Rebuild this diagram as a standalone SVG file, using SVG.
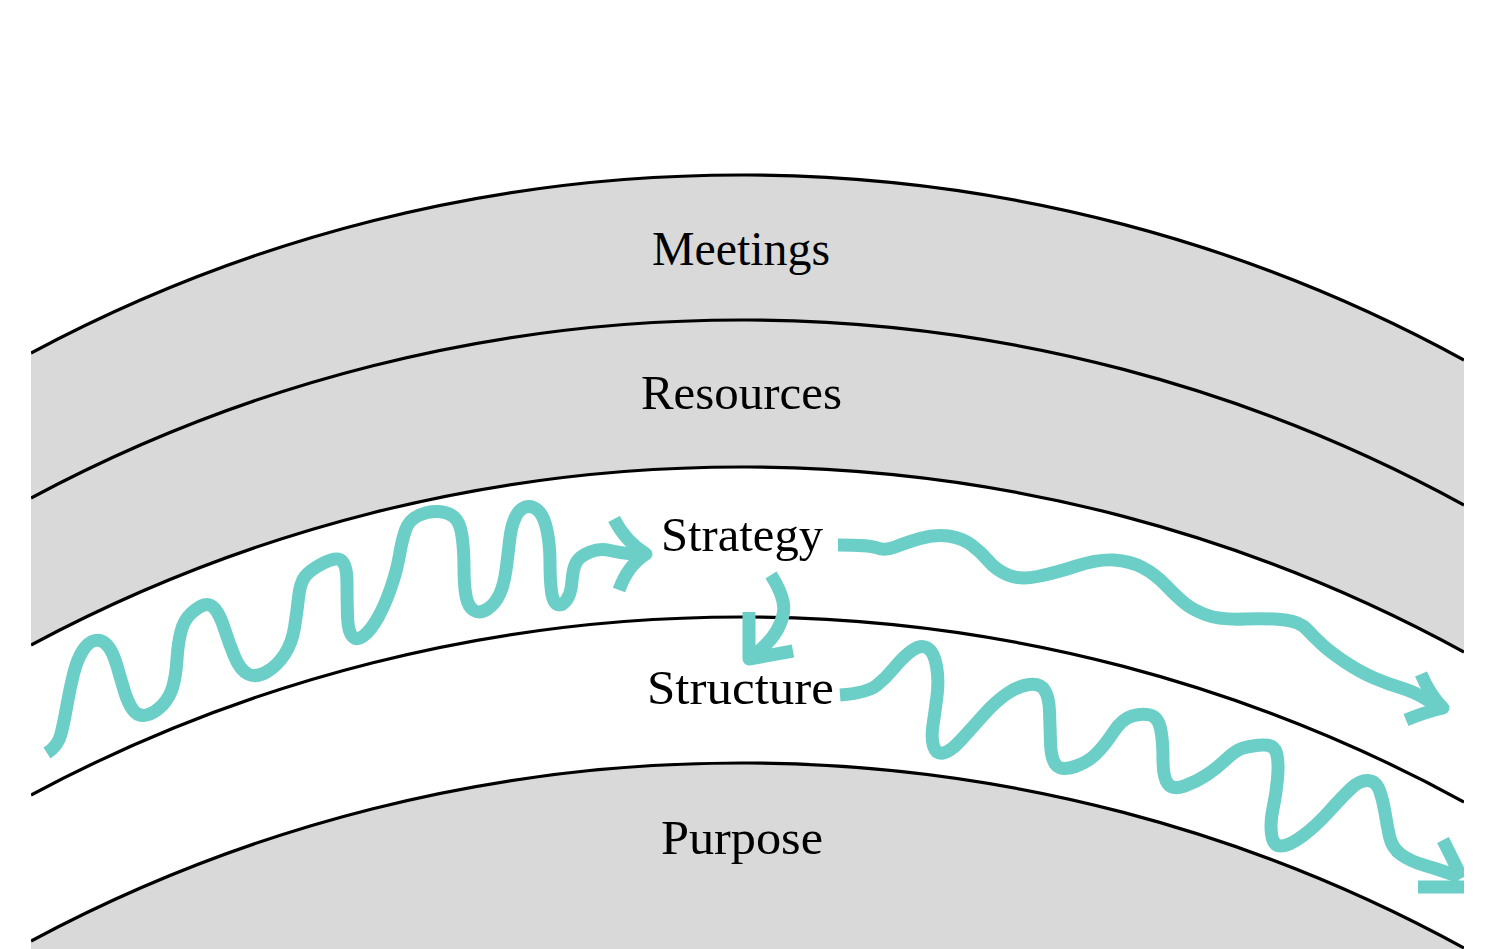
<svg xmlns="http://www.w3.org/2000/svg" width="1502" height="949" viewBox="0 0 1502 949">
<style>
.band{fill:#d9d9d9;stroke:none}
.arc{fill:none;stroke:#000;stroke-width:3.2}
.lbl{font-family:"Liberation Serif","Times New Roman",serif;font-size:48px;fill:#000;text-anchor:middle}
.flow{fill:none;stroke:#6bcec7;stroke-width:13;stroke-linejoin:round;stroke-linecap:butt}
</style>
<defs>
<clipPath id="clip"><rect x="31" y="0" width="1433" height="949"/></clipPath>
</defs>
<rect width="1502" height="949" fill="#fff"/>
<g id="bands" clip-path="url(#clip)">
<path class="band" d="M31,353 A1505,1505 0 0 1 1464,360 L1464,652 A1505,1505 0 0 0 31,645 Z"/>
<path class="band" d="M31,941 A1505,1505 0 0 1 1464,948 L1464,949 L31,949 Z"/>
<path class="arc" d="M31,353 A1505,1505 0 0 1 1464,360"/>
<path class="arc" d="M31,498 A1505,1505 0 0 1 1464,505"/>
<path class="arc" d="M31,645 A1505,1505 0 0 1 1464,652"/>
<path class="arc" d="M31,795 A1505,1505 0 0 1 1464,802"/>
<path class="arc" d="M31,941 A1505,1505 0 0 1 1464,948"/>
</g>
<g id="meetings"><text class="lbl" x="741" y="265" textLength="178" lengthAdjust="spacingAndGlyphs">Meetings</text></g>
<g id="resources"><text class="lbl" x="741.5" y="409" textLength="201" lengthAdjust="spacingAndGlyphs">Resources</text></g>
<g id="strategy"><text class="lbl" x="742" y="551" textLength="162" lengthAdjust="spacingAndGlyphs">Strategy</text></g>
<g id="structure"><text class="lbl" x="740.5" y="704" textLength="187" lengthAdjust="spacingAndGlyphs">Structure</text></g>
<g id="purpose"><text class="lbl" x="742" y="854" textLength="162" lengthAdjust="spacingAndGlyphs">Purpose</text></g>
<g id="connectors" clip-path="url(#clip)">
<path class="flow" d="M47,753 Q58,746 61,734 Q64,722 67,705 Q70,688 73.5,674 Q77,660 82.5,651 Q88,642 95,640.5 Q102,639 107.5,645.5 Q113,652 117,666 Q121,680 124.5,691.5 Q128,703 133,710 Q138,717 146.5,715 Q155,713 162.5,705 Q170,697 173,686 Q176,675 177,659 Q178,643 181,631.5 Q184,620 191,613.5 Q198,607 204,605 Q210,603 215,609 Q220,615 224.5,629 Q229,643 234.5,656.5 Q240,670 248,674 Q256,678 266.5,672 Q277,666 284.5,654.5 Q292,643 294.5,627.5 Q297,612 298.5,597.5 Q300,583 305,576.5 Q310,570 323.5,563 Q337,556 342,561 Q347,566 347,583 Q347,600 347.5,616 Q348,632 352.5,636.5 Q357,641 364,635.5 Q371,630 378,617.5 Q385,605 391,587.5 Q397,570 399.5,555 Q402,540 405.5,530 Q409,520 418.5,515.5 Q428,511 438,511.5 Q448,512 454,517 Q460,522 462,536 Q464,550 464,567.5 Q464,585 466,596 Q468,607 474,610.5 Q480,614 487.5,609 Q495,604 499.5,594.5 Q504,585 506,570 Q508,555 509.5,541 Q511,527 515,518 Q519,509 525.5,507 Q532,505 538,510.5 Q544,516 547,530.5 Q550,545 550,562.5 Q550,580 551.5,591.5 Q553,603 557.5,604.5 Q562,606 566.5,600 Q571,594 572,581 Q573,568 576.5,562 Q580,556 590,552 Q600,548 610,550.5 Q620,553 632.5,554 L645,555"/>
<path class="flow" d="M614,519 Q626,542 646,554 Q628,565 619,590"/>
<path class="flow" d="M838,545 Q870,545 877.5,548 Q885,551 895,547 Q905,543 920,538.5 Q935,534 948.5,536 Q962,538 971.5,545 Q981,552 988.5,561 Q996,570 1008,575 Q1020,580 1037.5,576.5 Q1055,573 1076.5,566 Q1098,559 1114,560 Q1130,561 1142.5,567.5 Q1155,574 1166,585.5 Q1177,597 1185,603.5 Q1193,610 1206.5,615 Q1220,620 1245,619 Q1270,618 1285,620 Q1300,622 1306.5,629 Q1313,636 1321.5,644 Q1330,652 1345,662 Q1360,672 1374,678 Q1388,684 1401.5,688 Q1415,692 1427.5,700 L1440,708"/>
<path class="flow" d="M1421,674 Q1430,695 1443,708 Q1425,712 1406,720"/>
<path class="flow" d="M771,575 Q787,600 783,615 Q778,638 752,656"/>
<path class="flow" d="M749,612 L749,659 L793,651"/>
<path class="flow" d="M840,695 Q867,693 876.5,685.5 Q886,678 894.5,667.5 Q903,657 912,650.5 Q921,644 927.5,648 Q934,652 936.5,666 Q939,680 937,696 Q935,712 933,725 Q931,738 933.5,746 Q936,754 943,753 Q950,752 961,740 Q972,728 983.5,715 Q995,702 1006.5,694 Q1018,686 1029,684.5 Q1040,683 1044.5,690 Q1049,697 1049.5,711 Q1050,725 1050.5,742.5 Q1051,760 1056.5,765.5 Q1062,771 1075,766.5 Q1088,762 1096.5,753.5 Q1105,745 1113.5,732 Q1122,719 1132,716 Q1142,713 1150,715 Q1158,717 1160.5,728.5 Q1163,740 1163,759 Q1163,778 1168,784 Q1173,790 1184.5,786 Q1196,782 1206.5,775 Q1217,768 1226.5,759 Q1236,750 1243,748 Q1250,746 1262,745 Q1274,744 1276.5,753 Q1279,762 1277.5,778.5 Q1276,795 1273,808.5 Q1270,822 1271.5,834 Q1273,846 1281,846 Q1289,846 1302.5,836 Q1316,826 1329,811.5 Q1342,797 1351,788.5 Q1360,780 1368,780.5 Q1376,781 1379.5,790.5 Q1383,800 1385,812.5 Q1387,825 1389.5,836.5 Q1392,848 1401,854.5 Q1410,861 1423.5,865 Q1437,869 1448.5,873 L1460,877"/>
<path class="flow" d="M1443,840 Q1452,858 1462,878"/>
<path class="flow" d="M1418,887 L1475,887"/>
</g>
</svg>
